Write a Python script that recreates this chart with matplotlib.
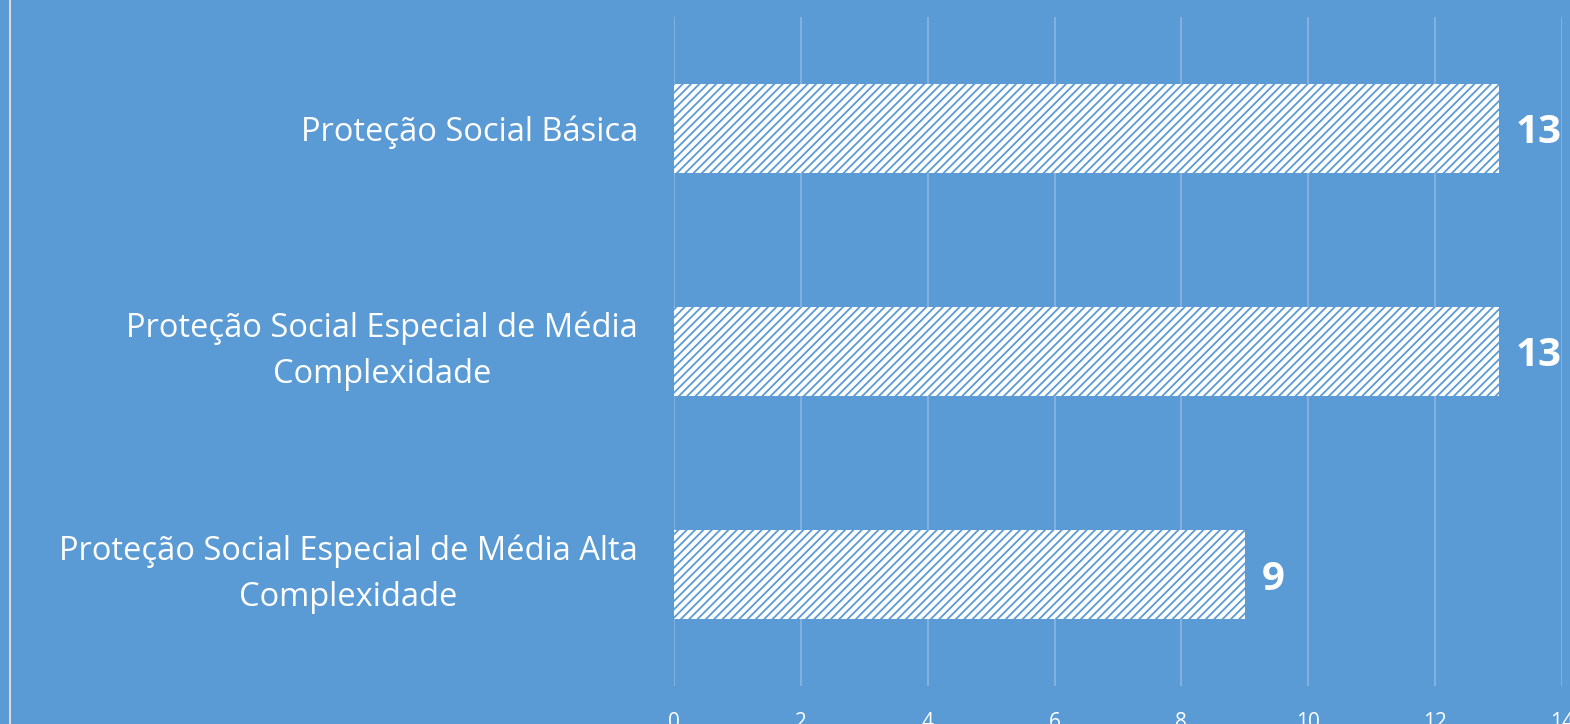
import matplotlib
matplotlib.use("Agg")
import matplotlib.pyplot as plt
from matplotlib.lines import Line2D

categories = [
    "Proteção Social Básica",
    "Proteção Social Especial de Média\nComplexidade",
    "Proteção Social Especial de Média Alta\nComplexidade",
]
values = [13, 13, 9]
xticks = [0, 2, 4, 6, 8, 10, 12, 14]

BG = "#5B9BD5"
GRID = "#8CB6E2"
HATCH = "#5B9BD5"

plt.rcParams["font.family"] = ["Open Sans", "DejaVu Sans"]
plt.rcParams["hatch.linewidth"] = 1.3

fig = plt.figure(figsize=(15.7, 7.24), dpi=100, facecolor=BG)
ax = fig.add_axes([674 / 1570, 1 - 686 / 724, (1562 - 674) / 1570, 669 / 724])
ax.set_facecolor(BG)

pos = list(range(len(categories)))[::-1]
ax.barh(pos, values, height=0.4, color="white", edgecolor=HATCH,
        hatch="////", linewidth=0, zorder=3)

for p, v in zip(pos, values):
    ax.text(v + 0.27, p, str(v), va="center_baseline", ha="left", color="white",
            fontsize=29, fontweight="bold", zorder=4)

ax.set_xlim(0, 14)
ax.set_ylim(-0.5, 2.5)
ax.set_xticks(xticks)
ax.set_yticks(pos)
labels = ax.set_yticklabels(categories, fontsize=23.5, color="white",
                            multialignment="center", linespacing=1.5)
# two-line labels sit a little high in the original, nudge them
for lab in labels:
    if "\n" in lab.get_text():
        lab.set_va("center")
ax.tick_params(axis="y", length=0, pad=26)
ax.tick_params(axis="x", length=0, pad=19, labelsize=15, labelcolor="white")
ax.grid(axis="x", color=GRID, linewidth=1.2, zorder=0)
for s in ax.spines.values():
    s.set_visible(False)

# chart frame edge on the left
fig.add_artist(Line2D([10 / 1570, 10 / 1570], [0, 1], color="#D9D9D9",
                      linewidth=1.5, transform=fig.transFigure))

fig.savefig("out.png", dpi=100, facecolor=BG)
